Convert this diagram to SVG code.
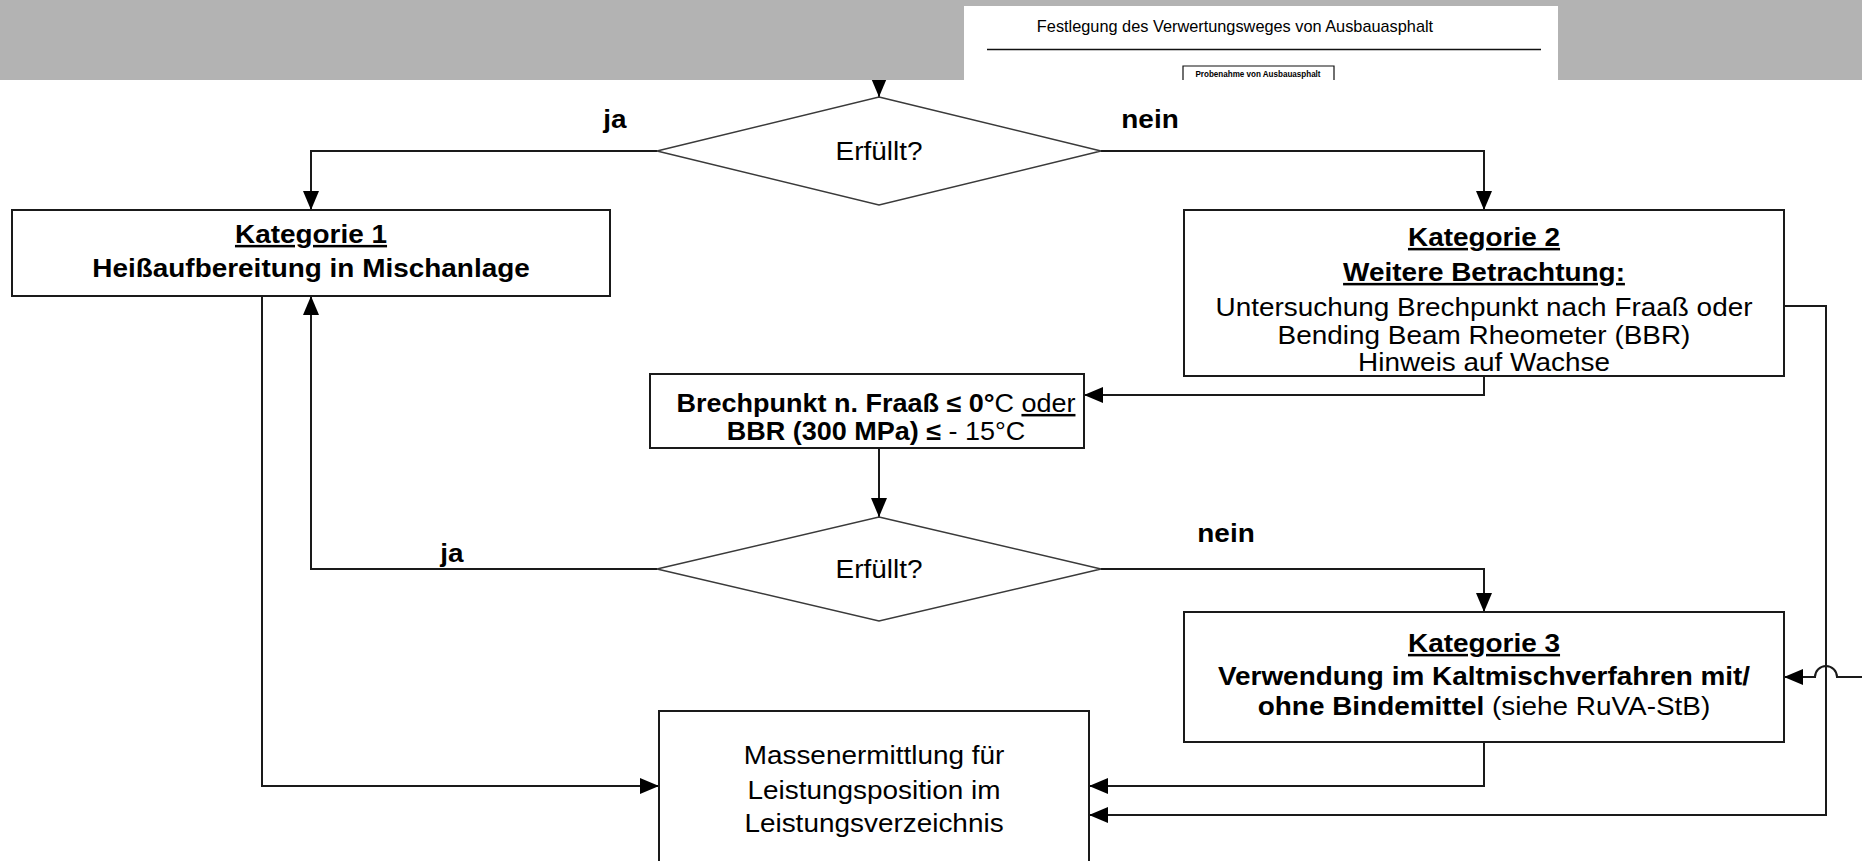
<svg xmlns="http://www.w3.org/2000/svg" width="1862" height="861" viewBox="0 0 1862 861">
<style>
.t{font-family:"Liberation Sans",Arial,sans-serif;font-size:25px;fill:#000}
.b{font-weight:bold}
.u{text-decoration:underline}
.box{fill:#fff;stroke:#1a1a1a;stroke-width:2}
.dia{fill:#fff;stroke:#3a3a3a;stroke-width:1.5}
.con{fill:none;stroke:#1a1a1a;stroke-width:2}
</style>
<defs>
<marker id="ah" markerUnits="userSpaceOnUse" markerWidth="19" markerHeight="16" refX="19" refY="8" orient="auto">
<path d="M0,0 L19,8 L0,16 z" fill="#000"/>
</marker>
</defs>
<rect x="0" y="0" width="1862" height="861" fill="#fff"/>
<g id="connectors">
<path class="con" d="M879,60 V97" marker-end="url(#ah)"/>
<path class="con" d="M657,151 H311 V210" marker-end="url(#ah)"/>
<path class="con" d="M1101,151 H1484 V210" marker-end="url(#ah)"/>
<path class="con" d="M1484,376 V395 H1084" marker-end="url(#ah)"/>
<path class="con" d="M879,448 V517" marker-end="url(#ah)"/>
<path class="con" d="M657,569 H311 V296" marker-end="url(#ah)"/>
<path class="con" d="M1101,569 H1484 V612" marker-end="url(#ah)"/>
<path class="con" d="M1484,742 V786 H1089" marker-end="url(#ah)"/>
<path class="con" d="M262,296 V786 H659" marker-end="url(#ah)"/>
<path class="con" d="M1784,306 H1826 V815 H1089" marker-end="url(#ah)"/>
<path class="con" d="M1870,677 H1837 A11,11 0 0 0 1815,677 H1784" marker-end="url(#ah)"/>
</g>
<g id="lbl-ja1"><text class="t b" transform="translate(615 128) scale(1.117 1)" text-anchor="middle">ja</text></g>
<g id="lbl-nein1"><text class="t b" transform="translate(1150 128) scale(1.117 1)" text-anchor="middle">nein</text></g>
<g id="lbl-ja2"><text class="t b" transform="translate(452 562) scale(1.117 1)" text-anchor="middle">ja</text></g>
<g id="lbl-nein2"><text class="t b" transform="translate(1226 542) scale(1.117 1)" text-anchor="middle">nein</text></g>
<g id="decision1">
<polygon class="dia" points="879,97 1101,151 879,205 657,151"/>
<text class="t" transform="translate(879 160) scale(1.117 1)" text-anchor="middle">Erfüllt?</text>
</g>
<g id="kat1">
<rect class="box" x="12" y="210" width="598" height="86"/>
<text class="t b u" transform="translate(311 243) scale(1.117 1)" text-anchor="middle">Kategorie 1</text>
<text class="t b" transform="translate(311 277) scale(1.117 1)" text-anchor="middle">Heißaufbereitung in Mischanlage</text>
</g>
<g id="kat2">
<rect class="box" x="1184" y="210" width="600" height="166"/>
<text class="t b u" transform="translate(1484 246) scale(1.117 1)" text-anchor="middle">Kategorie 2</text>
<text class="t b u" transform="translate(1484 281) scale(1.117 1)" text-anchor="middle">Weitere Betrachtung:</text>
<text class="t" transform="translate(1484 316) scale(1.117 1)" text-anchor="middle">Untersuchung Brechpunkt nach Fraaß oder</text>
<text class="t" transform="translate(1484 344) scale(1.117 1)" text-anchor="middle">Bending Beam Rheometer (BBR)</text>
<text class="t" transform="translate(1484 371) scale(1.117 1)" text-anchor="middle">Hinweis auf Wachse</text>
</g>
<g id="brechpunkt">
<rect class="box" x="650" y="374" width="434" height="74"/>
<text class="t" transform="translate(876 412) scale(1.08 1)" text-anchor="middle"><tspan class="b">Brechpunkt n. Fraaß ≤ 0°</tspan>C <tspan class="u">oder</tspan></text>
<text class="t" transform="translate(876 440) scale(1.08 1)" text-anchor="middle"><tspan class="b">BBR (300 MPa) ≤</tspan> - 15°C</text>
</g>
<g id="decision2">
<polygon class="dia" points="879,517 1101,569 879,621 657,569"/>
<text class="t" transform="translate(879 578) scale(1.117 1)" text-anchor="middle">Erfüllt?</text>
</g>
<g id="kat3">
<rect class="box" x="1184" y="612" width="600" height="130"/>
<text class="t b u" transform="translate(1484 652) scale(1.117 1)" text-anchor="middle">Kategorie 3</text>
<text class="t b" transform="translate(1484 685) scale(1.117 1)" text-anchor="middle">Verwendung im Kaltmischverfahren mit/</text>
<text class="t" transform="translate(1484 715) scale(1.117 1)" text-anchor="middle"><tspan class="b">ohne Bindemittel</tspan> (siehe RuVA-StB)</text>
</g>
<g id="massen">
<rect class="box" x="659" y="711" width="430" height="170"/>
<text class="t" transform="translate(874 764) scale(1.117 1)" text-anchor="middle">Massenermittlung für</text>
<text class="t" transform="translate(874 799) scale(1.117 1)" text-anchor="middle">Leistungsposition im</text>
<text class="t" transform="translate(874 832) scale(1.117 1)" text-anchor="middle">Leistungsverzeichnis</text>
</g>
<g id="header">
<rect x="0" y="0" width="1862" height="80" fill="#b3b3b3"/>
<rect x="964" y="6" width="594" height="74" fill="#fff"/>
<text class="t" style="font-size:17px" transform="translate(1235 32) scale(0.96 1)" text-anchor="middle">Festlegung des Verwertungsweges von Ausbauasphalt</text>
<line x1="987" y1="49.5" x2="1541" y2="49.5" stroke="#111" stroke-width="1.5"/>
<path d="M1183,80 V66 H1334 V80" fill="none" stroke="#111" stroke-width="1.2"/>
<text class="t b" style="font-size:9.5px" transform="translate(1258 77) scale(0.85 1)" text-anchor="middle">Probenahme von Ausbauasphalt</text>
</g>
</svg>
